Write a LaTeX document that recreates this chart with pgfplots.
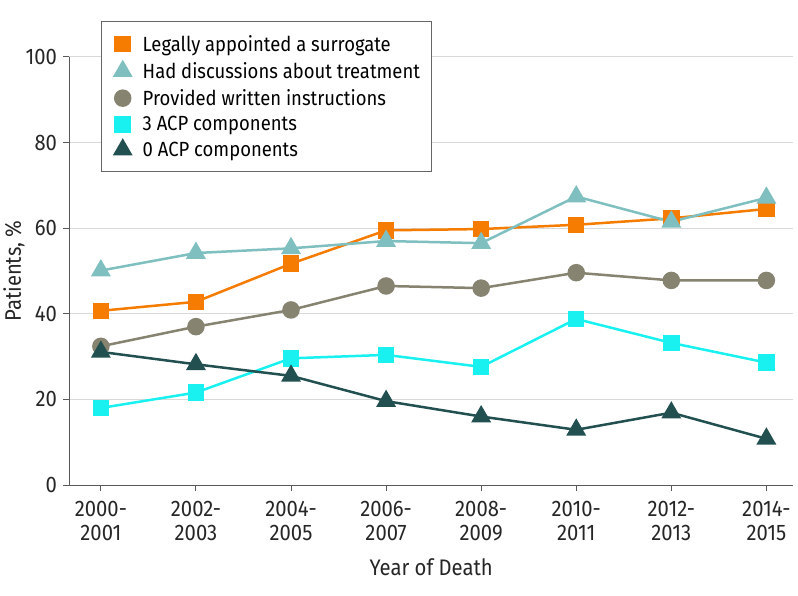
\documentclass[border=0pt]{standalone}
\usepackage{fontspec}
\setmainfont{Fira Sans}[FakeStretch=0.9]
\usepackage{pgfplots}
\pgfplotsset{compat=1.18}
\definecolor{cOrange}{RGB}{245,124,0}
\definecolor{cTeal}{RGB}{127,191,191}
\definecolor{cOlive}{RGB}{134,131,112}
\definecolor{cCyan}{RGB}{25,240,240}
\definecolor{cDark}{RGB}{34,80,80}
\newcommand{\chartfont}{\fontsize{22.5}{24}\selectfont}
\newcommand{\legfont}{\fontsize{20.5}{22}\selectfont}
\begin{document}
\begin{tikzpicture}
\useasboundingbox (-69.5pt,-110pt) rectangle (728.5pt,485pt);
\begin{axis}[
    at={(0,0)}, anchor=south west,
    scale only axis, width=723.5pt, height=428pt,
    xmin=-0.33, xmax=7.28, ymin=0, ymax=100,
    axis x line*=bottom, axis y line*=left,
    axis line style={-, draw=black!65, line width=1pt},
    xtick={0,...,7},
    xticklabels={{2000-\\2001},{2002-\\2003},{2004-\\2005},{2006-\\2007},
                 {2008-\\2009},{2010-\\2011},{2012-\\2013},{2014-\\2015}},
    ytick={0,20,...,100},
    tick align=outside, major tick length=6pt,
    tick style={draw=black!65, line width=1pt},
    ymajorgrids, grid style={draw=black!15, line width=1pt},
    tick label style={font=\chartfont, text=black!85},
    x tick label style={align=center, yshift=-7pt},
    y tick label style={xshift=-3pt},
    label style={font=\chartfont, text=black!85},
    xlabel style={yshift=-10pt},
    ylabel shift=-6pt,
    /pgf/number format/assume math mode=true,
    xlabel={Year of Death},
    ylabel={Patients, \%},
    legend cell align=left,
    legend style={at={(0.044,1.084)}, anchor=north west,
        draw=black!60, line width=0.8pt, font=\legfont,
        row sep=5.5pt, inner xsep=9pt, inner ysep=12pt},
    legend image code/.code={\path[draw=none,fill=none] (0pt,-1pt) rectangle (30pt,1pt);
        \draw[mark repeat=2,mark phase=2,#1,only marks]
        plot coordinates {(0pt,0pt) (12pt,0pt) (24pt,0pt)};},
    every axis plot/.append style={line width=2.5pt},
]
\addplot[color=cOrange, mark=square*, mark size=7pt, mark options={solid}] coordinates {
    (0,40.7) (1,42.8) (2,51.7) (3,59.5) (4,59.8) (5,60.8) (6,62.3) (7,64.5)
};
\addlegendentry{Legally appointed a surrogate}
\addplot[color=cTeal, mark=triangle*, mark size=9pt, mark options={solid}] coordinates {
    (0,50.1) (1,54.2) (2,55.3) (3,57.0) (4,56.5) (5,67.4) (6,61.5) (7,67.1)
};
\addlegendentry{Had discussions about treatment}
\addplot[color=cOlive, mark=*, mark size=7.5pt, mark options={solid}] coordinates {
    (0,32.4) (1,37.0) (2,40.9) (3,46.5) (4,46.0) (5,49.6) (6,47.8) (7,47.8)
};
\addlegendentry{Provided written instructions}
\addplot[color=cCyan, mark=square*, mark size=7pt, mark options={solid}] coordinates {
    (0,18.0) (1,21.6) (2,29.6) (3,30.4) (4,27.6) (5,38.8) (6,33.2) (7,28.6)
};
\addlegendentry{3 ACP components}
\addplot[color=cDark, mark=triangle*, mark size=9pt, mark options={solid}] coordinates {
    (0,31.1) (1,28.2) (2,25.5) (3,19.6) (4,16.0) (5,12.9) (6,16.9) (7,10.8)
};
\addlegendentry{0 ACP components}
\end{axis}
\end{tikzpicture}
\end{document}
